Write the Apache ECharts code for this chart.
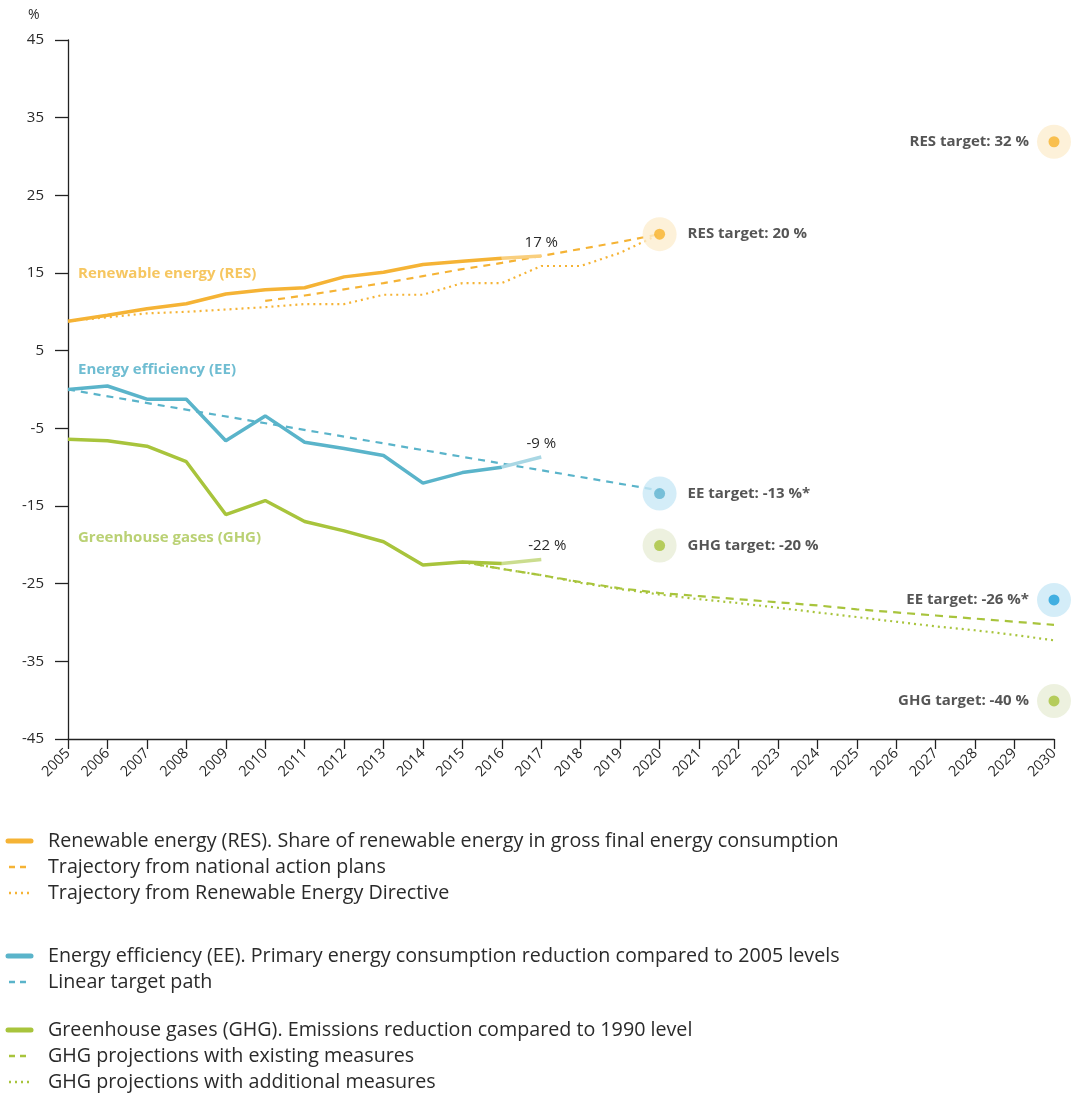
<!DOCTYPE html>
<html>
<head>
<meta charset="utf-8">
<script src="https://cdn.jsdelivr.net/npm/echarts@6/dist/echarts.min.js"></script>
<style>
html,body{margin:0;padding:0;background:#fff;}
#chart{width:1075px;height:1098px;}
</style>
</head>
<body>
<div id="chart"></div>
<script>
const years = ['2005','2006','2007','2008','2009','2010','2011','2012','2013','2014','2015','2016','2017','2018','2019','2020','2021','2022','2023','2024','2025','2026','2027','2028','2029','2030'];
const yTicks = [-45,-35,-25,-15,-5,5,15,25,35,45];

// Renewable energy share (%), 2005-2016 observed, 2016-2017 approximated
const resYears = ['2005','2006','2007','2008','2009','2010','2011','2012','2013','2014','2015','2016'];
const resValues = [8.8, 9.55, 10.4, 11.05, 12.3, 12.85, 13.1, 14.5, 15.1, 16.1, 16.5, 16.9];
const resProxy = [['2016', 16.9], ['2017', 17.2]];
// National action plan trajectory
const resNapYears = ['2010','2011','2012','2013','2014','2015','2016','2017','2018','2019','2020'];
const resNapValues = [11.4, 12.1, 12.9, 13.7, 14.6, 15.5, 16.3, 17.2, 18.1, 19.0, 20.0];
// Renewable Energy Directive trajectory
const resRedYears = ['2005','2006','2007','2008','2009','2010','2011','2012','2013','2014','2015','2016','2017','2018','2019','2020'];
const resRedValues = [8.8, 9.3, 9.8, 10.0, 10.3, 10.6, 11.0, 11.0, 12.2, 12.2, 13.7, 13.7, 15.9, 15.9, 17.6, 20.0];

// Energy efficiency (%)
const eeYears = ['2005','2006','2007','2008','2009','2010','2011','2012','2013','2014','2015','2016'];
const eeValues = [0, 0.45, -1.25, -1.25, -6.6, -3.4, -6.8, -7.6, -8.5, -12.05, -10.7, -10.0];
const eeProxy = [['2016', -10.0], ['2017', -8.7]];
const eeLinearPath = [['2005', 0], ['2020', -13]];

// Greenhouse gases (%)
const ghgYears = ['2005','2006','2007','2008','2009','2010','2011','2012','2013','2014','2015','2016'];
const ghgValues = [-6.4, -6.6, -7.3, -9.3, -16.1, -14.3, -17.0, -18.2, -19.6, -22.6, -22.2, -22.4];
const ghgProxy = [['2016', -22.4], ['2017', -21.9]];
const ghgProjYears = ['2015','2016','2017','2018','2019','2020','2021','2022','2023','2024','2025','2026','2027','2028','2029','2030'];
const ghgWemValues = [-22.2, -23.1, -23.9, -24.8, -25.6, -26.2, -26.6, -27.0, -27.4, -27.8, -28.3, -28.7, -29.1, -29.5, -29.9, -30.3];
const ghgWamValues = [-22.2, -23.1, -23.9, -24.9, -25.7, -26.4, -27.0, -27.5, -28.1, -28.7, -29.3, -29.9, -30.5, -31.0, -31.6, -32.3];

// Targets
const targets2020 = [
  {name: 'RES target: 20 %', year: '2020', value: 20, dot: '#f7b32b', halo: '#fdedcf'},
  {name: 'EE target: -13 %*', year: '2020', value: -13.4, dot: '#5fb3cf', halo: '#c9e8f6'},
  {name: 'GHG target: -20 %', year: '2020', value: -20.1, dot: '#a6c33a', halo: '#e9eed7'}
];
const targets2030 = [
  {name: 'RES target: 32 %', year: '2030', value: 31.9, dot: '#f7b32b', halo: '#fdedcf'},
  {name: 'EE target: -26 %*', year: '2030', value: -27.1, dot: '#1b9fdb', halo: '#c9e8f6'},
  {name: 'GHG target: -40 %', year: '2030', value: -40.1, dot: '#a6c33a', halo: '#e9eed7'}
];

const legendRows = [
  {text: 'Renewable energy (RES). Share of renewable energy in gross final energy consumption', color: '#f5b335', type: 'solid', y: 841},
  {text: 'Trajectory from national action plans', color: '#f5b335', type: 'dashed', y: 867},
  {text: 'Trajectory from Renewable Energy Directive', color: '#f5b335', type: 'dotted', y: 893},
  {text: 'Energy efficiency (EE). Primary energy consumption reduction compared to 2005 levels', color: '#5ab4ca', type: 'solid', y: 956},
  {text: 'Linear target path', color: '#5ab4ca', type: 'dashed', y: 982},
  {text: 'Greenhouse gases (GHG). Emissions reduction compared to 1990 level', color: '#a8c43c', type: 'solid', y: 1030},
  {text: 'GHG projections with existing measures', color: '#a8c43c', type: 'dashed', y: 1056},
  {text: 'GHG projections with additional measures', color: '#a8c43c', type: 'dotted', y: 1082}
];

const FONT = '"Open Sans", sans-serif';
const ORANGE = '#f5b335', BLUE = '#5ab4ca', GREEN = '#a8c43c';
const DARK = '#2a2a2a';

function pairs(xs, vs){ return xs.map((x,i)=>[x, vs[i]]); }

function endLabelData(data, text, offset){
  return data.map((d,i)=> i === data.length-1 ? {value: d, label: {show: true, formatter: text, position: 'top', distance: 4, offset: offset || [0,0], color: DARK, fontSize: 15, fontFamily: FONT}} : {value: d});
}

const graphics = [];
graphics.push({type: 'text', left: 28, top: 8, style: {text: '%', fill: DARK, font: '14px ' + FONT}});
graphics.push({type: 'text', left: 78, top: 266, style: {text: 'Renewable energy (RES)', fill: '#f6c660', font: 'bold 15px ' + FONT}});
graphics.push({type: 'text', left: 78, top: 362, style: {text: 'Energy efficiency (EE)', fill: '#6fbdd2', font: 'bold 15px ' + FONT}});
graphics.push({type: 'text', left: 78, top: 530, style: {text: 'Greenhouse gases (GHG)', fill: '#bad174', font: 'bold 15px ' + FONT}});

legendRows.forEach(r => {
  if (r.type === 'solid') {
    graphics.push({type: 'line', shape: {x1: 8, y1: r.y, x2: 31, y2: r.y}, style: {stroke: r.color, lineWidth: 5, lineCap: 'round'}});
  } else if (r.type === 'dashed') {
    graphics.push({type: 'line', shape: {x1: 9, y1: r.y, x2: 29, y2: r.y}, style: {stroke: r.color, lineWidth: 2.5, lineDash: [6, 5]}});
  } else {
    graphics.push({type: 'line', shape: {x1: 9, y1: r.y, x2: 31, y2: r.y}, style: {stroke: r.color, lineWidth: 2.5, lineDash: [2, 4]}});
  }
  graphics.push({type: 'text', left: 48, top: r.y - 10, style: {text: r.text, fill: DARK, font: '19.7px ' + FONT}});
});

function targetSeries(list, side){
  const halo = {
    type: 'scatter', z: 3, symbolSize: 34, silent: true,
    data: list.map(t => ({value: [t.year, t.value], itemStyle: {color: t.halo},
      label: {show: true, formatter: t.name, position: side, distance: side === 'right' ? 11 : 8,
        color: DARK, fontWeight: 'bold', fontSize: 15, fontFamily: FONT}}))
  };
  const dot = {
    type: 'scatter', z: 4, symbolSize: 11, silent: true,
    data: list.map(t => ({value: [t.year, t.value], itemStyle: {color: t.dot}}))
  };
  return [halo, dot];
}

const option = {
  backgroundColor: '#fff',
  animation: false,
  textStyle: {fontFamily: FONT},
  grid: {left: 68, right: 21, top: 40, bottom: 359},
  xAxis: {
    type: 'category', data: years, boundaryGap: false,
    axisLine: {onZero: false, lineStyle: {color: '#222', width: 1.3}},
    axisTick: {length: 10, lineStyle: {color: '#222', width: 1.3}, interval: 0},
    axisLabel: {rotate: 45, interval: 0, color: DARK, fontSize: 14.5, fontFamily: FONT, margin: 12},
    splitLine: {show: false}
  },
  yAxis: {
    type: 'value', min: -45, max: 45, interval: 10,
    axisLine: {show: true, lineStyle: {color: '#222', width: 1.3}},
    axisTick: {show: true, length: 13, lineStyle: {color: '#222', width: 1.3}},
    axisLabel: {color: DARK, fontSize: 15, fontFamily: FONT, margin: 24,
      formatter: v => yTicks.indexOf(v) >= 0 ? String(v) : ''},
    splitLine: {show: false}
  },
  graphic: graphics,
  series: [
    {type: 'line', name: 'RES NAP', data: pairs(resNapYears, resNapValues), showSymbol: false, z: 1,
      lineStyle: {color: ORANGE, width: 2.2, type: [7, 6]}},
    {type: 'line', name: 'RES RED', data: pairs(resRedYears, resRedValues), showSymbol: false, z: 1,
      lineStyle: {color: ORANGE, width: 2.2, type: [2, 4]}},
    {type: 'line', name: 'EE path', data: eeLinearPath, showSymbol: false, z: 1,
      lineStyle: {color: BLUE, width: 2.2, type: [7, 6]}},
    {type: 'line', name: 'GHG WEM', data: pairs(ghgProjYears, ghgWemValues), showSymbol: false, z: 1,
      lineStyle: {color: GREEN, width: 2.2, type: [8, 6]}},
    {type: 'line', name: 'GHG WAM', data: pairs(ghgProjYears, ghgWamValues), showSymbol: false, z: 1,
      lineStyle: {color: GREEN, width: 2.2, type: [2, 4]}},
    {type: 'line', name: 'RES', data: pairs(resYears, resValues), showSymbol: false, z: 2,
      lineStyle: {color: ORANGE, width: 3.5}},
    {type: 'line', name: 'RES proxy', data: endLabelData(resProxy, '17 %', [0, -2]), showSymbol: true, symbol: 'circle', symbolSize: 0.1, z: 2,
      itemStyle: {color: 'rgba(0,0,0,0)'}, lineStyle: {color: '#f9cf7e', width: 3.5}},
    {type: 'line', name: 'EE', data: pairs(eeYears, eeValues), showSymbol: false, z: 2,
      lineStyle: {color: BLUE, width: 3.5}},
    {type: 'line', name: 'EE proxy', data: endLabelData(eeProxy, '-9 %', [0, -2]), showSymbol: true, symbol: 'circle', symbolSize: 0.1, z: 2,
      itemStyle: {color: 'rgba(0,0,0,0)'}, lineStyle: {color: '#a9d7e4', width: 3.5}},
    {type: 'line', name: 'GHG', data: pairs(ghgYears, ghgValues), showSymbol: false, z: 2,
      lineStyle: {color: GREEN, width: 3.5}},
    {type: 'line', name: 'GHG proxy', data: endLabelData(ghgProxy, '-22 %', [6, -2]), showSymbol: true, symbol: 'circle', symbolSize: 0.1, z: 2,
      itemStyle: {color: 'rgba(0,0,0,0)'}, lineStyle: {color: '#cbdd8f', width: 3.5}},
    ...targetSeries(targets2020, 'right'),
    ...targetSeries(targets2030, 'left')
  ]
};

const chart = echarts.init(document.getElementById('chart'), null, {renderer: 'canvas'});
chart.setOption(option);
</script>
</body>
</html>
